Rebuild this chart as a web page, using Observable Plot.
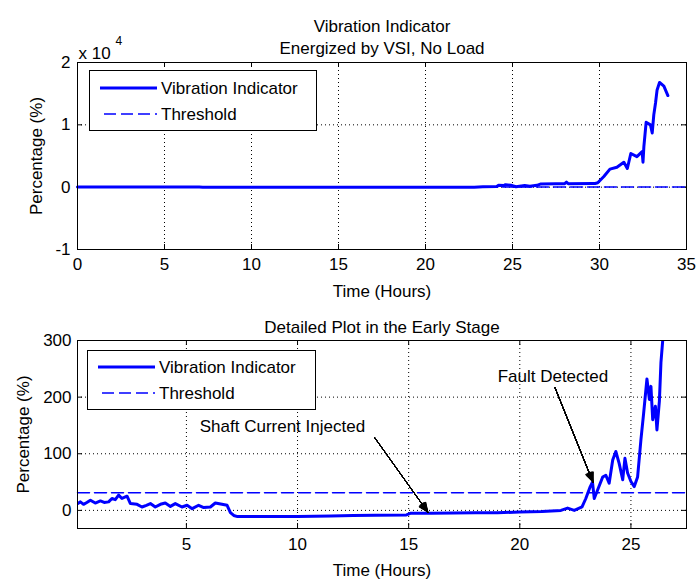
<!DOCTYPE html>
<html>
<head>
<meta charset="utf-8">
<script src="https://cdn.jsdelivr.net/npm/d3@7"></script>
<script src="https://cdn.jsdelivr.net/npm/@observablehq/plot@0.6"></script>
<style>
  body { margin: 0; background: #fff; }
  #chart { position: relative; width: 698px; height: 580px; background: #fff;
           font-family: "Liberation Sans", Arial, Helvetica, sans-serif; }
  .panel { position: absolute; left: 0; }
  .legend { position: absolute; background: #fff; border: 1px solid #000; box-sizing: border-box; }
  .legend svg { display: block; }
</style>
</head>
<body>
<div id="chart"></div>
<script>
// ---------- data ----------
const seriesNames = ["Vibration Indicator", "Threshold"];
const thresholdValue = 31;

// Full run (percentage, %)
const topTime = [0, 2, 5, 7, 7.2, 15, 20, 22.8, 23.3, 24.1, 24.2, 24.5, 24.6, 24.9, 25.2, 25.5, 25.7, 26.0, 26.4, 26.6,
  27.5, 28.0, 28.1, 28.2, 29.6, 29.75, 29.9, 30.25, 30.6, 31.0, 31.4, 31.6, 31.8, 32.15, 32.45, 32.5, 32.55, 32.68,
  32.93, 33.03, 33.12, 33.22, 33.31, 33.45, 33.7, 33.93];
const topValue = [15, 20, 9, 10, -10, -5, -3, 6, 50, 100, 300, 250, 400, 300, 60, 200, 250, 150, 300, 500,
  550, 560, 800, 560, 600, 600, 700, 1700, 2900, 3200, 4000, 3000, 5400, 4900, 5700, 4000, 6500, 10400,
  10000, 8700, 11600, 13500, 15600, 16800, 16200, 14700];
const topThresholdTime = [0, 35];

// Early stage detail (percentage, %)
const detailTime = [0.1, 0.23, 0.37, 0.52, 0.68, 0.9, 1.13, 1.3, 1.5, 1.65, 1.8, 1.95, 2.1, 2.33, 2.48, 2.78, 3.0, 3.2,
  3.38, 3.6, 3.83, 4.05, 4.28, 4.5, 4.8, 5.03, 5.26, 5.55, 5.78, 6.08, 6.3, 6.6, 6.83, 6.98, 7.13, 7.3, 8.5, 10, 11.5,
  12.5, 13.5, 14.9, 15.1, 16, 17, 18, 19, 20, 21, 21.85, 22.15, 22.45, 22.8, 22.97, 23.17, 23.27, 23.35, 23.5, 23.73,
  23.87, 24.02, 24.18, 24.32, 24.47, 24.63, 24.73, 24.85, 25.0, 25.15, 25.3, 25.45, 25.57, 25.72, 25.83, 25.9, 25.98,
  26.1, 26.17, 26.28, 26.35, 26.45];
const detailValue = [12, 15, 10.7, 14, 18, 13, 16.7, 14, 15, 21, 19, 27, 21, 25, 12, 10.7, 6, 9,
  12, 6, 10.7, 13, 7, 12, 6, 9, 3, 9, 5, 6, 13, 10.7, 9, -4, -9, -11, -11, -11, -10,
  -9, -8.5, -8, -5, -5, -4.5, -4, -4, -3, -2, 0, 4, 0, 6, 21, 42, 50, 21, 36, 59,
  62, 48, 89, 104, 83, 54, 92, 66, 51, 42, 59, 125, 171, 232, 196, 219, 160,
  184, 142, 193, 261, 310];
const detailThresholdTime = [0.1, 27.5];

// Tick labels
const topXTicks = [0, 5, 10, 15, 20, 25, 30, 35];
const topYTicks = [-10000, 0, 10000, 20000];
const detailXTicks = [5, 10, 15, 20, 25];
const detailYTicks = [0, 100, 200, 300];

// Titles
const topTitles = ["Vibration Indicator", "Energized by VSI, No Load"];
const detailTitle = "Detailed Plot in the Early Stage";

// Annotations (detail plot)
const annLabels = ["Shaft Current Injected", "Fault Detected"];
const annLabelX = [9.32, 21.49];
const annLabelY = [148, 237];
const annFromX = [13.46, 21.58];
const annFromY = [129, 217];
const annToX = [15.86, 23.29];
const annToY = [-3, 50];

// ---------- build ----------
const FONT = '"Liberation Sans", Arial, Helvetica, sans-serif';
const BLUE = "#0000ff";
const topData = topTime.map((t, i) => ({t, v: topValue[i]}));
const topThr = topThresholdTime.map(t => ({t, v: thresholdValue}));
const detData = detailTime.map((t, i) => ({t, v: detailValue[i]}));
const detThr = detailThresholdTime.map(t => ({t, v: thresholdValue}));
const anns = annLabels.map((label, i) => ({label, x: annLabelX[i], y: annLabelY[i],
  x1: annFromX[i], y1: annFromY[i], x2: annToX[i], y2: annToY[i]}));

const W = 698, ML = 77, MR = 12;
const innerW = W - ML - MR;
const dots = {stroke: "#000", strokeOpacity: 1, strokeWidth: 1, strokeDasharray: "1,3"};

function inwardTicks(xt, yt, innerH) {
  return [
    Plot.tickX(xt, {x: d => d, insetTop: innerH - 5, stroke: "#000"}),
    Plot.tickX(xt, {x: d => d, insetBottom: innerH - 5, stroke: "#000"}),
    Plot.tickY(yt, {y: d => d, insetRight: innerW - 5, stroke: "#000"}),
    Plot.tickY(yt, {y: d => d, insetLeft: innerW - 5, stroke: "#000"})
  ];
}

// Top panel
const H1 = 300, MT1 = 62, MB1 = 51;
const topPlot = Plot.plot({
  width: W, height: H1, marginLeft: ML, marginRight: MR, marginTop: MT1, marginBottom: MB1,
  style: {fontFamily: FONT, fontSize: "17px", color: "#000", background: "#fff", overflow: "visible"},
  x: {domain: [0, 35], label: null},
  y: {domain: [-10000, 20000], label: null},
  marks: [
    Plot.gridX(topXTicks, dots),
    Plot.gridY(topYTicks, dots),
    ...inwardTicks(topXTicks, topYTicks, H1 - MT1 - MB1),
    Plot.axisX(topXTicks, {tickSize: 0, tickPadding: 8, fontSize: 17, label: "Time (Hours)", labelAnchor: "center", labelOffset: 47, labelArrow: "none"}),
    Plot.axisY(topYTicks, {tickSize: 0, tickPadding: 7, fontSize: 17, tickFormat: d => d / 10000, label: "Percentage (%)", labelAnchor: "center", labelOffset: 48, labelArrow: "none"}),
    Plot.line(topThr, {x: "t", y: "v", stroke: BLUE, strokeWidth: 1.5, strokeDasharray: "12,5"}),
    Plot.line(topData, {x: "t", y: "v", stroke: BLUE, strokeWidth: 3}),
    Plot.frame({stroke: "#000"}),
    Plot.text([topTitles[0]], {text: d => d, frameAnchor: "top", dy: -43, fontSize: 17}),
    Plot.text([topTitles[1]], {text: d => d, frameAnchor: "top", dy: -21, fontSize: 17}),
    Plot.text(["x 10"], {text: d => d, frameAnchor: "top-left", textAnchor: "start", dx: 1, dy: -16, fontSize: 17}),
    Plot.text(["4"], {text: d => d, frameAnchor: "top-left", textAnchor: "start", dx: 38, dy: -26, fontSize: 12})
  ]
});

// Bottom panel
const H2 = 280, MT2 = 40, MB2 = 52;
const arrowAngles = [4, 8, 12, 16, 20, 24, 28, 32, 36, 40, 44, 48];
const bottomPlot = Plot.plot({
  width: W, height: H2, marginLeft: ML, marginRight: MR, marginTop: MT2, marginBottom: MB2,
  style: {fontFamily: FONT, fontSize: "17px", color: "#000", background: "#fff", overflow: "visible"},
  x: {domain: [0.1, 27.5], label: null},
  y: {domain: [-32, 300], label: null},
  marks: [
    Plot.gridX(detailXTicks, dots),
    Plot.gridY(detailYTicks, dots),
    ...inwardTicks(detailXTicks, detailYTicks, H2 - MT2 - MB2),
    Plot.axisX(detailXTicks, {tickSize: 0, tickPadding: 9, fontSize: 17, label: "Time (Hours)", labelAnchor: "center", labelOffset: 47, labelArrow: "none"}),
    Plot.axisY(detailYTicks, {tickSize: 0, tickPadding: 6, fontSize: 17, label: "Percentage (%)", labelAnchor: "center", labelOffset: 61, labelArrow: "none"}),
    Plot.line(detThr, {x: "t", y: "v", stroke: BLUE, strokeWidth: 1.5, strokeDasharray: "12,5"}),
    Plot.line(detData, {x: "t", y: "v", stroke: BLUE, strokeWidth: 3, clip: true}),
    Plot.frame({stroke: "#000"}),
    Plot.text([detailTitle], {text: d => d, frameAnchor: "top", dy: -20, fontSize: 17}),
    ...arrowAngles.map(a => Plot.arrow(anns, {x1: "x1", y1: "y1", x2: "x2", y2: "y2", stroke: "#000",
      strokeWidth: 1, headLength: 15, headAngle: a})),
    Plot.text(anns, {x: "x", y: "y", text: "label", fontSize: 17})
  ]
});

const chart = document.getElementById("chart");
topPlot.classList.add("panel"); topPlot.style.top = "0px";
bottomPlot.classList.add("panel"); bottomPlot.style.top = "300px";
chart.appendChild(topPlot);
chart.appendChild(bottomPlot);

// Legends
function legend(left, topPx, w, h, row1, row2) {
  const div = document.createElement("div");
  div.className = "legend";
  Object.assign(div.style, {left: left + "px", top: topPx + "px", width: w + "px", height: h + "px"});
  const ns = "http://www.w3.org/2000/svg";
  const svg = document.createElementNS(ns, "svg");
  svg.setAttribute("width", w - 2); svg.setAttribute("height", h - 2);
  const rows = [[row1, seriesNames[0], 3, null], [row2, seriesNames[1], 1.5, "12,5"]];
  for (const [y, name, sw, dash] of rows) {
    const ln = document.createElementNS(ns, "line");
    ln.setAttribute("x1", 10); ln.setAttribute("x2", 67);
    ln.setAttribute("y1", y); ln.setAttribute("y2", y);
    ln.setAttribute("stroke", BLUE); ln.setAttribute("stroke-width", sw);
    if (dash) { ln.setAttribute("stroke-dasharray", dash); ln.setAttribute("stroke-dashoffset", -4); }
    svg.appendChild(ln);
    const tx = document.createElementNS(ns, "text");
    tx.setAttribute("x", 71); tx.setAttribute("y", y);
    tx.setAttribute("dy", "0.35em");
    tx.setAttribute("font-family", FONT); tx.setAttribute("font-size", 17);
    tx.textContent = name;
    svg.appendChild(tx);
  }
  div.appendChild(svg);
  chart.appendChild(div);
}
legend(89, 70, 228, 61, 17, 43);
legend(87, 350, 229, 60, 16, 42);
</script>
</body>
</html>
